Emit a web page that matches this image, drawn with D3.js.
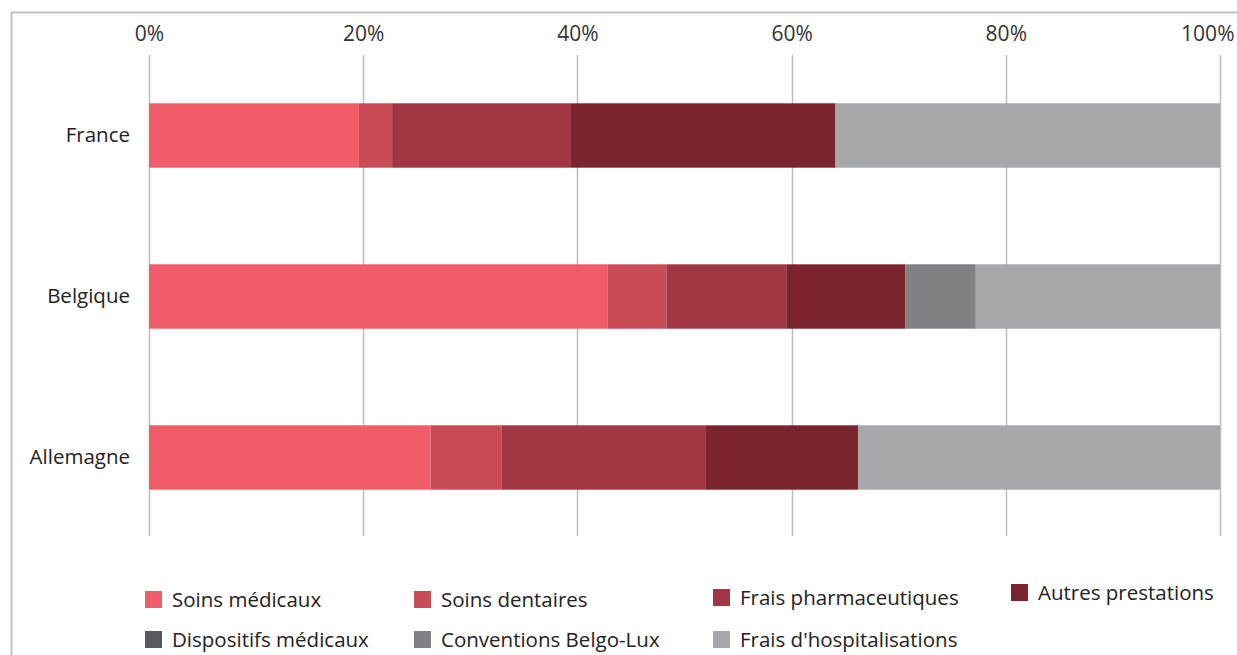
<!DOCTYPE html>
<html>
<head>
<meta charset="utf-8">
<script src="https://cdn.jsdelivr.net/npm/d3@7"></script>
<style>
  html, body { margin: 0; padding: 0; background: #fff; }
  svg { display: block; font-family: "Open Sans", "Noto Sans", sans-serif; }
</style>
</head>
<body>
<svg id="chart" width="1237" height="655"></svg>
<script>
// Countries (one horizontal bar each)
const countries = ["France", "Belgique", "Allemagne"];

// Spending categories, in stacking order
const categories = [
  "Soins médicaux",
  "Soins dentaires",
  "Frais pharmaceutiques",
  "Autres prestations",
  "Dispositifs médicaux",
  "Conventions Belgo-Lux",
  "Frais d'hospitalisations"
];

// Share of each category (%), one array per category, ordered like countries
const soinsMedicaux      = [19.6, 42.8, 26.3];
const soinsDentaires     = [3.1, 5.5, 6.6];
const fraisPharma        = [16.7, 11.2, 19.1];
const autresPrestations  = [24.7, 11.1, 14.2];
const dispositifs        = [0, 0, 0];
const conventions        = [0, 6.6, 0];
const fraisHospit        = [35.9, 22.8, 33.8];

const seriesValues = [soinsMedicaux, soinsDentaires, fraisPharma, autresPrestations,
                      dispositifs, conventions, fraisHospit];

const colors = ["#F05C67", "#C84B55", "#A13742", "#7B242F", "#58595B", "#808184", "#A7A8AB"];

const tickValues = [0, 20, 40, 60, 80, 100];

// Build rows for d3.stack
const rows = countries.map((c, i) => {
  const r = { country: c };
  categories.forEach((k, j) => { r[k] = seriesValues[j][i]; });
  return r;
});
const stacked = d3.stack().keys(categories)(rows);

const svg = d3.select("#chart");

// Outer frame (left and top edges)
svg.append("path")
  .attr("d", "M11.5,655 V12.5 H1237")
  .attr("fill", "none")
  .attr("stroke", "#c4c4c4")
  .attr("stroke-width", 2);

const x = d3.scaleLinear().domain([0, 100]).range([149, 1220]);
const y = d3.scaleBand().domain(countries).range([55, 538]).paddingInner(0.6).paddingOuter(0.3);

// Vertical gridlines
svg.append("g")
  .selectAll("line")
  .data(tickValues)
  .join("line")
  .attr("x1", d => Math.round(x(d)) + 0.5)
  .attr("x2", d => Math.round(x(d)) + 0.5)
  .attr("y1", 55)
  .attr("y2", 536)
  .attr("stroke", "#bdbdbd")
  .attr("stroke-width", 1.5);

// Top axis labels
const xAxis = d3.axisTop(x).tickValues(tickValues).tickFormat(d => d + "%").tickSize(0).tickPadding(0);
const gx = svg.append("g").attr("transform", "translate(0,41)").call(xAxis);
gx.select(".domain").remove();
gx.selectAll("text")
  .attr("font-family", "'Open Sans', sans-serif")
  .attr("font-size", 21)
  .attr("fill", "#333");
gx.selectAll(".tick text").attr("dy", 0);
// keep the last label inside the frame
gx.selectAll(".tick text").filter(d => d === 100)
  .attr("text-anchor", "end")
  .attr("x", 14);

// Category axis labels
const yAxis = d3.axisLeft(y).tickSize(0).tickPadding(19);
const gy = svg.append("g").attr("transform", "translate(149,0)").call(yAxis);
gy.select(".domain").remove();
gy.selectAll("text")
  .attr("font-family", "'Open Sans', sans-serif")
  .attr("font-size", 20.5)
  .attr("fill", "#222");

// Stacked bars
svg.append("g")
  .selectAll("g")
  .data(stacked)
  .join("g")
  .attr("fill", (d, i) => colors[i])
  .selectAll("rect")
  .data(d => d)
  .join("rect")
  .attr("x", d => x(d[0]))
  .attr("y", d => y(d.data.country))
  .attr("width", d => Math.max(0, x(d[1]) - x(d[0])))
  .attr("height", y.bandwidth());

// Legend
const legendPos = [
  [145, 600], [414, 600], [713, 598], [1011, 593],
  [145, 640], [414, 640], [713, 640]
];
const legend = svg.append("g")
  .selectAll("g")
  .data(categories)
  .join("g")
  .attr("transform", (d, i) => `translate(${legendPos[i][0]},${legendPos[i][1]})`);
legend.append("rect")
  .attr("x", 0).attr("y", -9)
  .attr("width", 17).attr("height", 17)
  .attr("fill", (d, i) => colors[i]);
legend.append("text")
  .attr("x", 27)
  .attr("y", 0)
  .attr("dy", "0.35em")
  .attr("font-size", 20.5)
  .attr("fill", "#222")
  .text(d => d);
</script>
</body>
</html>
